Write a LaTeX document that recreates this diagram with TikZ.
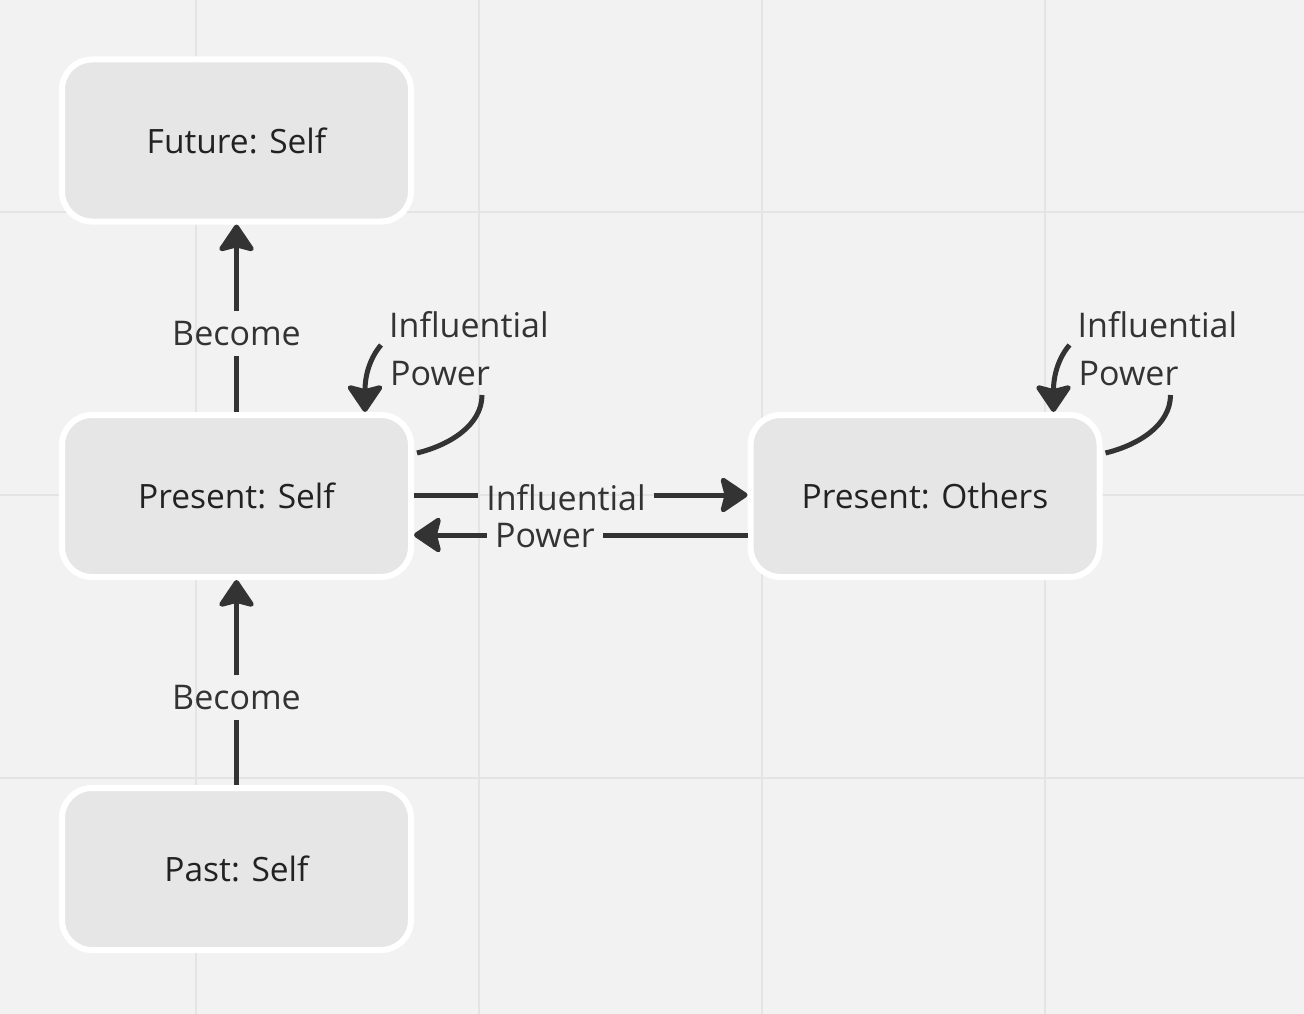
\documentclass[tikz,border=0pt]{standalone}
\usepackage{fontspec}
\setmainfont{Open Sans}
\usetikzlibrary{arrows.meta,calc}
\definecolor{bg}{HTML}{F2F2F2}
\definecolor{gridc}{HTML}{E4E4E4}
\definecolor{boxfill}{HTML}{E6E6E6}
\definecolor{ink}{HTML}{333333}
\definecolor{txt}{HTML}{222222}
\newcommand{\myloop}[2]{%
  \node[lbl, anchor=base west] (#2i) at ($(#1.north east)+(-25,-75)$) {Influential};
  \node[lbl, anchor=base west] (#2p) at ($(#1.north east)+(-24,-27)$) {Power};
  \coordinate (#2s) at ($(#1.north east)+(3,41)$);
  \coordinate (#2e) at ($(#1.north east)+(68,-17)$);
  \coordinate (#2t) at ($(#1.north east)+(-33,-67)$);
  \coordinate (#2h) at ($(#1.north east)+(-49,0)$);
  \draw[conn] (#2s) .. controls ($(#1.north east)+(36,33)$) and ($(#1.north east)+(68,13)$) .. (#2e);
  \draw[conn,arr] (#2t) .. controls ($(#1.north east)+(-44,-54)$) and ($(#1.north east)+(-49,-37)$) .. (#2h);
}
\begin{document}
\begin{tikzpicture}[x=1pt,y=-1pt,
  box/.style={draw=white, line width=6pt, fill=boxfill, rounded corners=30pt, minimum width=349pt, minimum height=162pt, inner sep=0pt, text=txt, font=\fontsize{33.5}{40}\selectfont},
  lbl/.style={text=ink, inner sep=0pt, font=\fontsize{34}{40}\selectfont},
  conn/.style={draw=ink, line width=5pt},
  arr/.style={-{Stealth[length=30pt,width=40pt,inset=5pt,round]}}
]
\fill[bg] (0,0) rectangle (1304,1014);
\useasboundingbox (0,0) rectangle (1304,1014);
\foreach \x in {196,479,762,1045} \draw[gridc, line width=2pt] (\x,0) -- (\x,1014);
\foreach \y in {212,495,778} \draw[gridc, line width=2pt] (0,\y) -- (1304,\y);

\node[box] (fut) at (236.5,140.5) {Future: Self};
\node[box] (ps) at (236.5,496) {Present: Self};
\node[box] (past) at (236.5,869) {Past: Self};
\node[box] (po) at (925,496) {Present: Others};

% Become arrows
\node[lbl, anchor=base, inner ysep=10pt] (b1) at (236.5,345) {Become};
\draw[conn] (ps.north) -- (b1.south);
\draw[conn,arr] (b1.north) -- (fut.south);
\node[lbl, anchor=base, inner ysep=10pt] (b2) at (236.5,709) {Become};
\draw[conn] (past.north) -- (b2.south);
\draw[conn,arr] (b2.north) -- (ps.south);

% horizontal arrows
\node[lbl, anchor=base, inner xsep=8pt] (h1) at (566,510) {Influential};
\node[lbl, anchor=base, inner xsep=8pt] (h2) at (545,547) {Power};
\coordinate (hA) at ($(ps.east)+(0,-1)$);
\coordinate (hB) at ($(po.west)+(0,-1)$);
\draw[conn] (hA) -- (hA -| h1.west);
\draw[conn,arr] (hA -| h1.east) -- (hB);
\coordinate (hC) at ($(po.west)+(0,39)$);
\coordinate (hD) at ($(ps.east)+(0,39)$);
\draw[conn] (hC) -- (hC -| h2.east);
\draw[conn,arr] (hC -| h2.west) -- (hD);

% self loops
\myloop{ps}{L}
\myloop{po}{R}
\end{tikzpicture}
\end{document}
